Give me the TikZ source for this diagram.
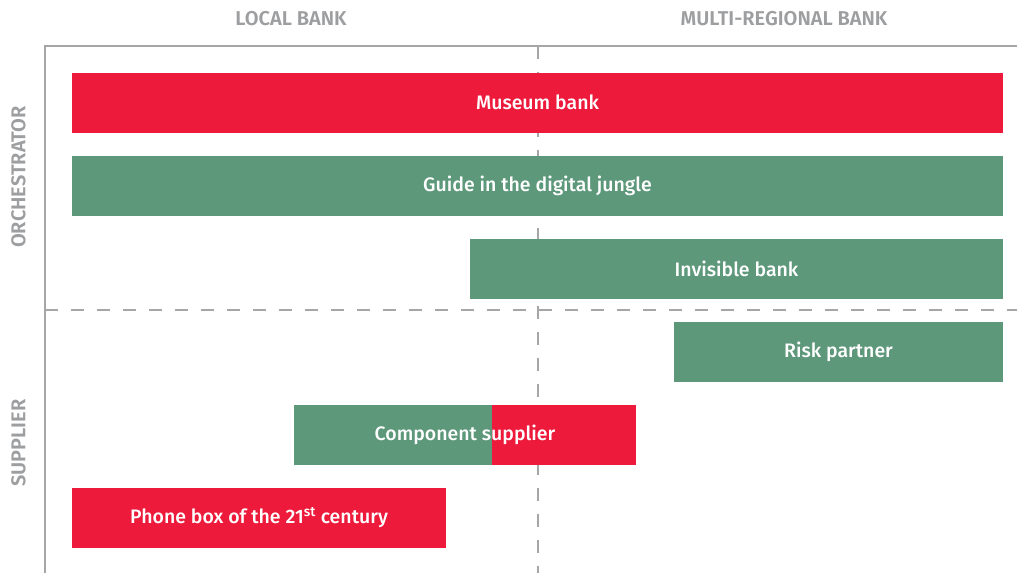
\documentclass[tikz,border=0pt]{standalone}
\usepackage{fontspec}
\setmainfont{Fira Sans}[BoldFont={Fira Sans Medium}]
\newfontfamily\axisfont{Fira Sans SemiBold}
\definecolor{barred}{HTML}{ED1A3B}
\definecolor{bargreen}{HTML}{5D987B}
\definecolor{labelgray}{HTML}{9D9EA0}
\definecolor{linegray}{HTML}{A6A6A6}
\tikzset{
  bar/.style={rectangle, inner sep=0pt, minimum height=60pt, text=white,
    font=\fontsize{19.5}{22}\selectfont\bfseries},
  redbar/.style={bar, fill=barred},
  greenbar/.style={bar, fill=bargreen},
  axislabel/.style={text=labelgray, font=\axisfont\fontsize{20}{22}\selectfont, inner sep=0pt},
  frameline/.style={draw=linegray, line width=1.2pt},
  gridline/.style={draw=linegray, line width=1.2pt, dash pattern=on 13pt off 13pt}
}
\begin{document}
\begin{tikzpicture}[x=1pt, y=-1pt]
\useasboundingbox (0,0) rectangle (1017,573);
% axis labels
\node[axislabel] (local) at (291,18.5) {LOCAL BANK};
\node[axislabel] (multi) at (784,18.5) {MULTI-REGIONAL BANK};
\node[axislabel, rotate=90] (orch) at (18.5,177) {ORCHESTRATOR};
\node[axislabel, rotate=90] (supp) at (18.5,443) {SUPPLIER};
% frame and grid
\coordinate (tl) at (45,46);
\coordinate (tr) at (1017,46);
\coordinate (bl) at (45,573);
\coordinate (ml) at (45,310);
\coordinate (mr) at (1017,310);
\coordinate (vt) at (538,46);
\coordinate (vb) at (538,573);
\draw[gridline] (ml) -- (mr);
\draw[gridline] (vt) -- (vb);
\draw[frameline] (tr) -- (tl) -- (bl);
% bars
\node[redbar, minimum width=931pt] (museum) at (537.5,102.5) {Museum bank};
\node[greenbar, minimum width=931pt] (guide) at (537.5,185.5) {Guide in the digital jungle};
\node[greenbar, minimum width=533pt] (invisible) at (736.5,268.5) {Invisible bank};
\node[greenbar, minimum width=329pt] (risk) at (838.5,351.5) {Risk partner};
\node[greenbar, minimum width=342pt] (comp) at (465,434.5) {};
\coordinate (split) at (492,404.5);
\fill[barred] (split) rectangle (comp.south east);
\node[bar] (complabel) at (comp.center) {Component supplier};
\node[redbar, minimum width=374pt] (phone) at (259,517.5) {Phone box of the 21\textsuperscript{st} century};
\end{tikzpicture}
\end{document}
